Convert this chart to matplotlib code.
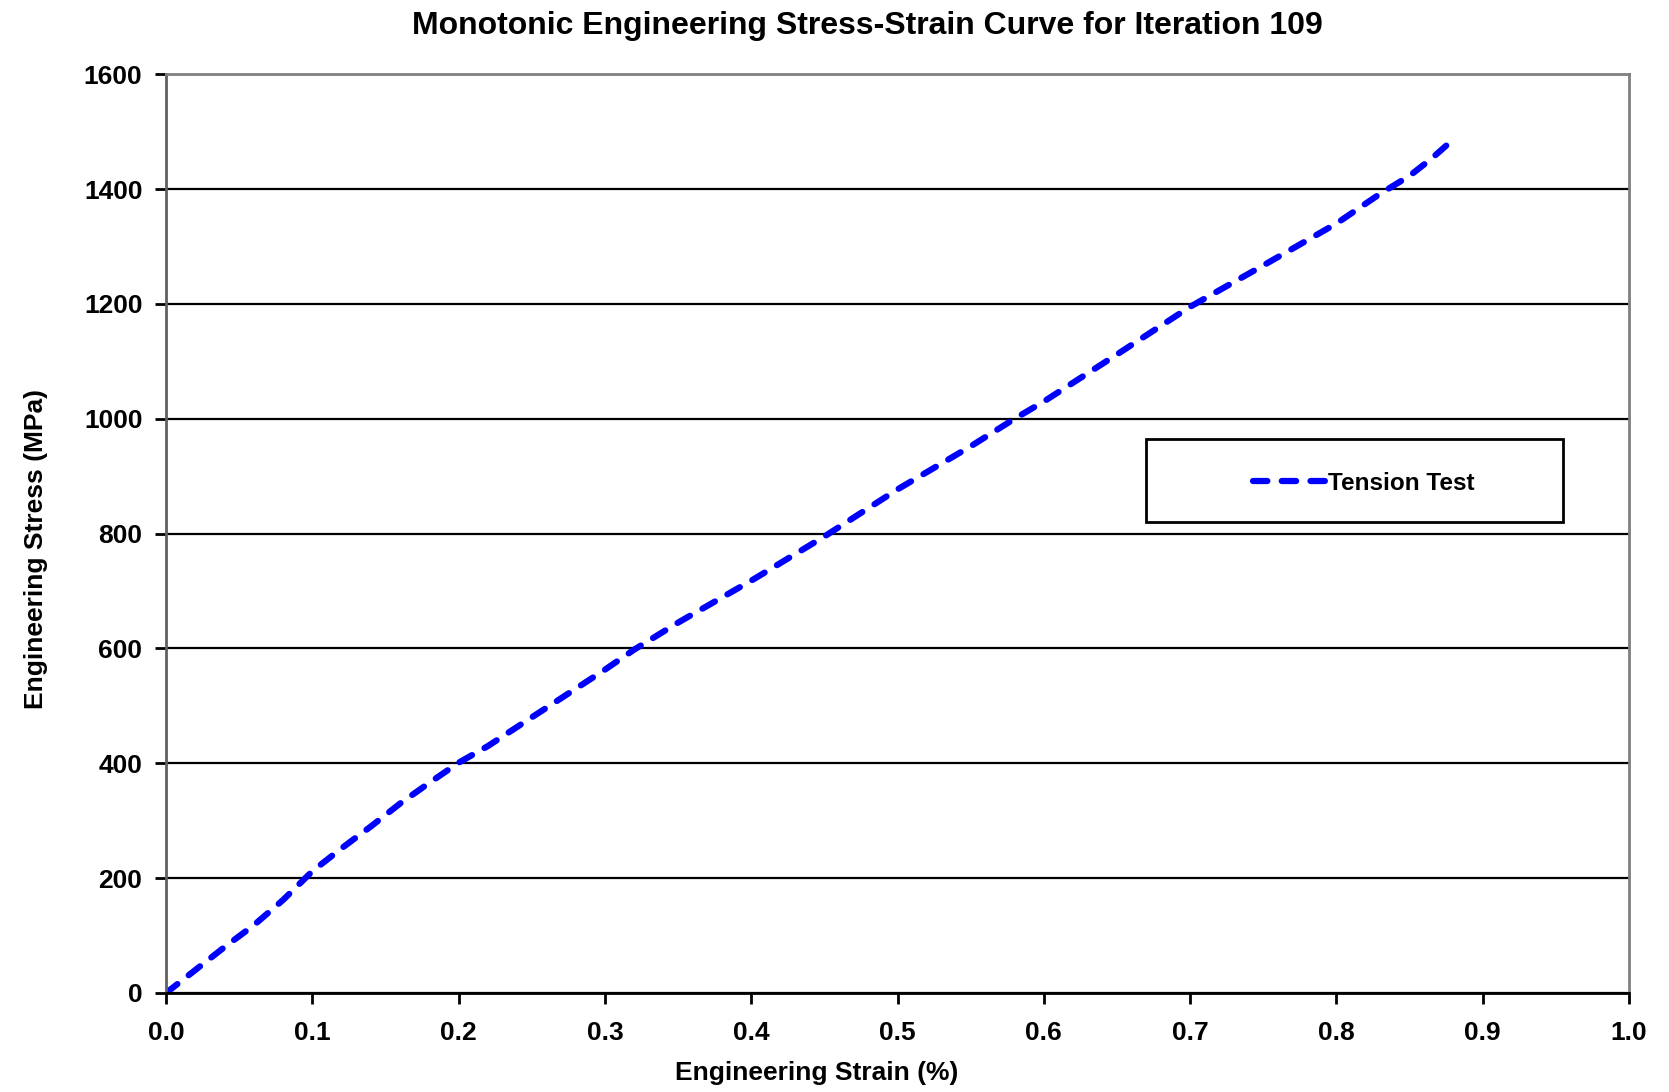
import matplotlib.pyplot as plt
from matplotlib.patches import Rectangle

# ----------------------------------------------------
# Data
# ----------------------------------------------------

strain = [0.0, 0.02, 0.04, 0.06, 0.08, 0.10, 0.12, 0.14, 0.16, 0.18,
          0.20, 0.22, 0.25, 0.30, 0.32, 0.35, 0.40, 0.45, 0.50, 0.55,
          0.58, 0.60, 0.65, 0.70, 0.75, 0.80, 0.83, 0.85, 0.865, 0.877]
stress = [0, 40, 80, 118, 162, 212, 252, 290, 330, 366,
          401, 430, 480, 563, 598, 645, 718, 795, 877, 952,
          1000, 1030, 1112, 1195, 1267, 1340, 1392, 1423, 1453, 1480]

x_ticks = [0.0, 0.1, 0.2, 0.3, 0.4, 0.5, 0.6, 0.7, 0.8, 0.9, 1.0]
y_ticks = [0, 200, 400, 600, 800, 1000, 1200, 1400, 1600]

title = "Monotonic Engineering Stress-Strain Curve for Iteration 109"
x_label = "Engineering Strain (%)"
y_label = "Engineering Stress (MPa)"
series_label = "Tension Test"

# ----------------------------------------------------
# Figure
# ----------------------------------------------------

plt.rcParams["font.family"] = ["Liberation Sans", "DejaVu Sans"]
plt.rcParams["font.weight"] = "bold"

fig = plt.figure(figsize=(16.69, 10.92), dpi=100)
ax = fig.add_axes([0.0995, 0.0907, 0.8765, 0.8413])

line, = ax.plot(
    strain,
    stress,
    color="#0000FF",
    linewidth=4.5,
    dash_capstyle="round",
    label=series_label
)
line.set_dashes((2.3, 2.3))

ax.set_xlim(0, 1.0)
ax.set_ylim(0, 1600)
ax.set_xticks(x_ticks)
ax.set_yticks(y_ticks)
ax.set_xticklabels([f"{t:.1f}" for t in x_ticks])

ax.yaxis.grid(True, color="black", linewidth=1.6)
ax.set_axisbelow(True)

for side in ["top", "right"]:
    ax.spines[side].set_color("#808080")
    ax.spines[side].set_linewidth(2)
ax.spines["left"].set_color("#606060")
ax.spines["left"].set_linewidth(2)
ax.spines["bottom"].set_color("black")
ax.spines["bottom"].set_linewidth(2)

ax.tick_params(axis="both", direction="out", length=8, width=2,
               labelsize=19)
ax.tick_params(axis="x", pad=12)
ax.tick_params(axis="y", pad=9)

# title and axis labels sit a bit off-centre in the original
ax.set_title(title, fontsize=23, fontweight="bold", pad=29, x=0.4795)
ax.set_xlabel(x_label, fontsize=19, fontweight="bold", labelpad=12, x=0.445)
ax.set_ylabel(y_label, fontsize=19, fontweight="bold", labelpad=26, y=0.483)

# ----------------------------------------------------
# Legend box
# ----------------------------------------------------

ax.add_patch(Rectangle(
    (0.670, 0.513), 0.285, 0.0895,
    transform=ax.transAxes,
    facecolor="white",
    edgecolor="black",
    linewidth=2,
    zorder=3
))

leg = ax.legend(
    loc="center",
    bbox_to_anchor=(0.8185, 0.555),
    frameon=False,
    fontsize=17.5,
    handlelength=3.0,
    handletextpad=0.1
)
leg.set_zorder(4)

fig.savefig("out.png", dpi=100, facecolor="white")
